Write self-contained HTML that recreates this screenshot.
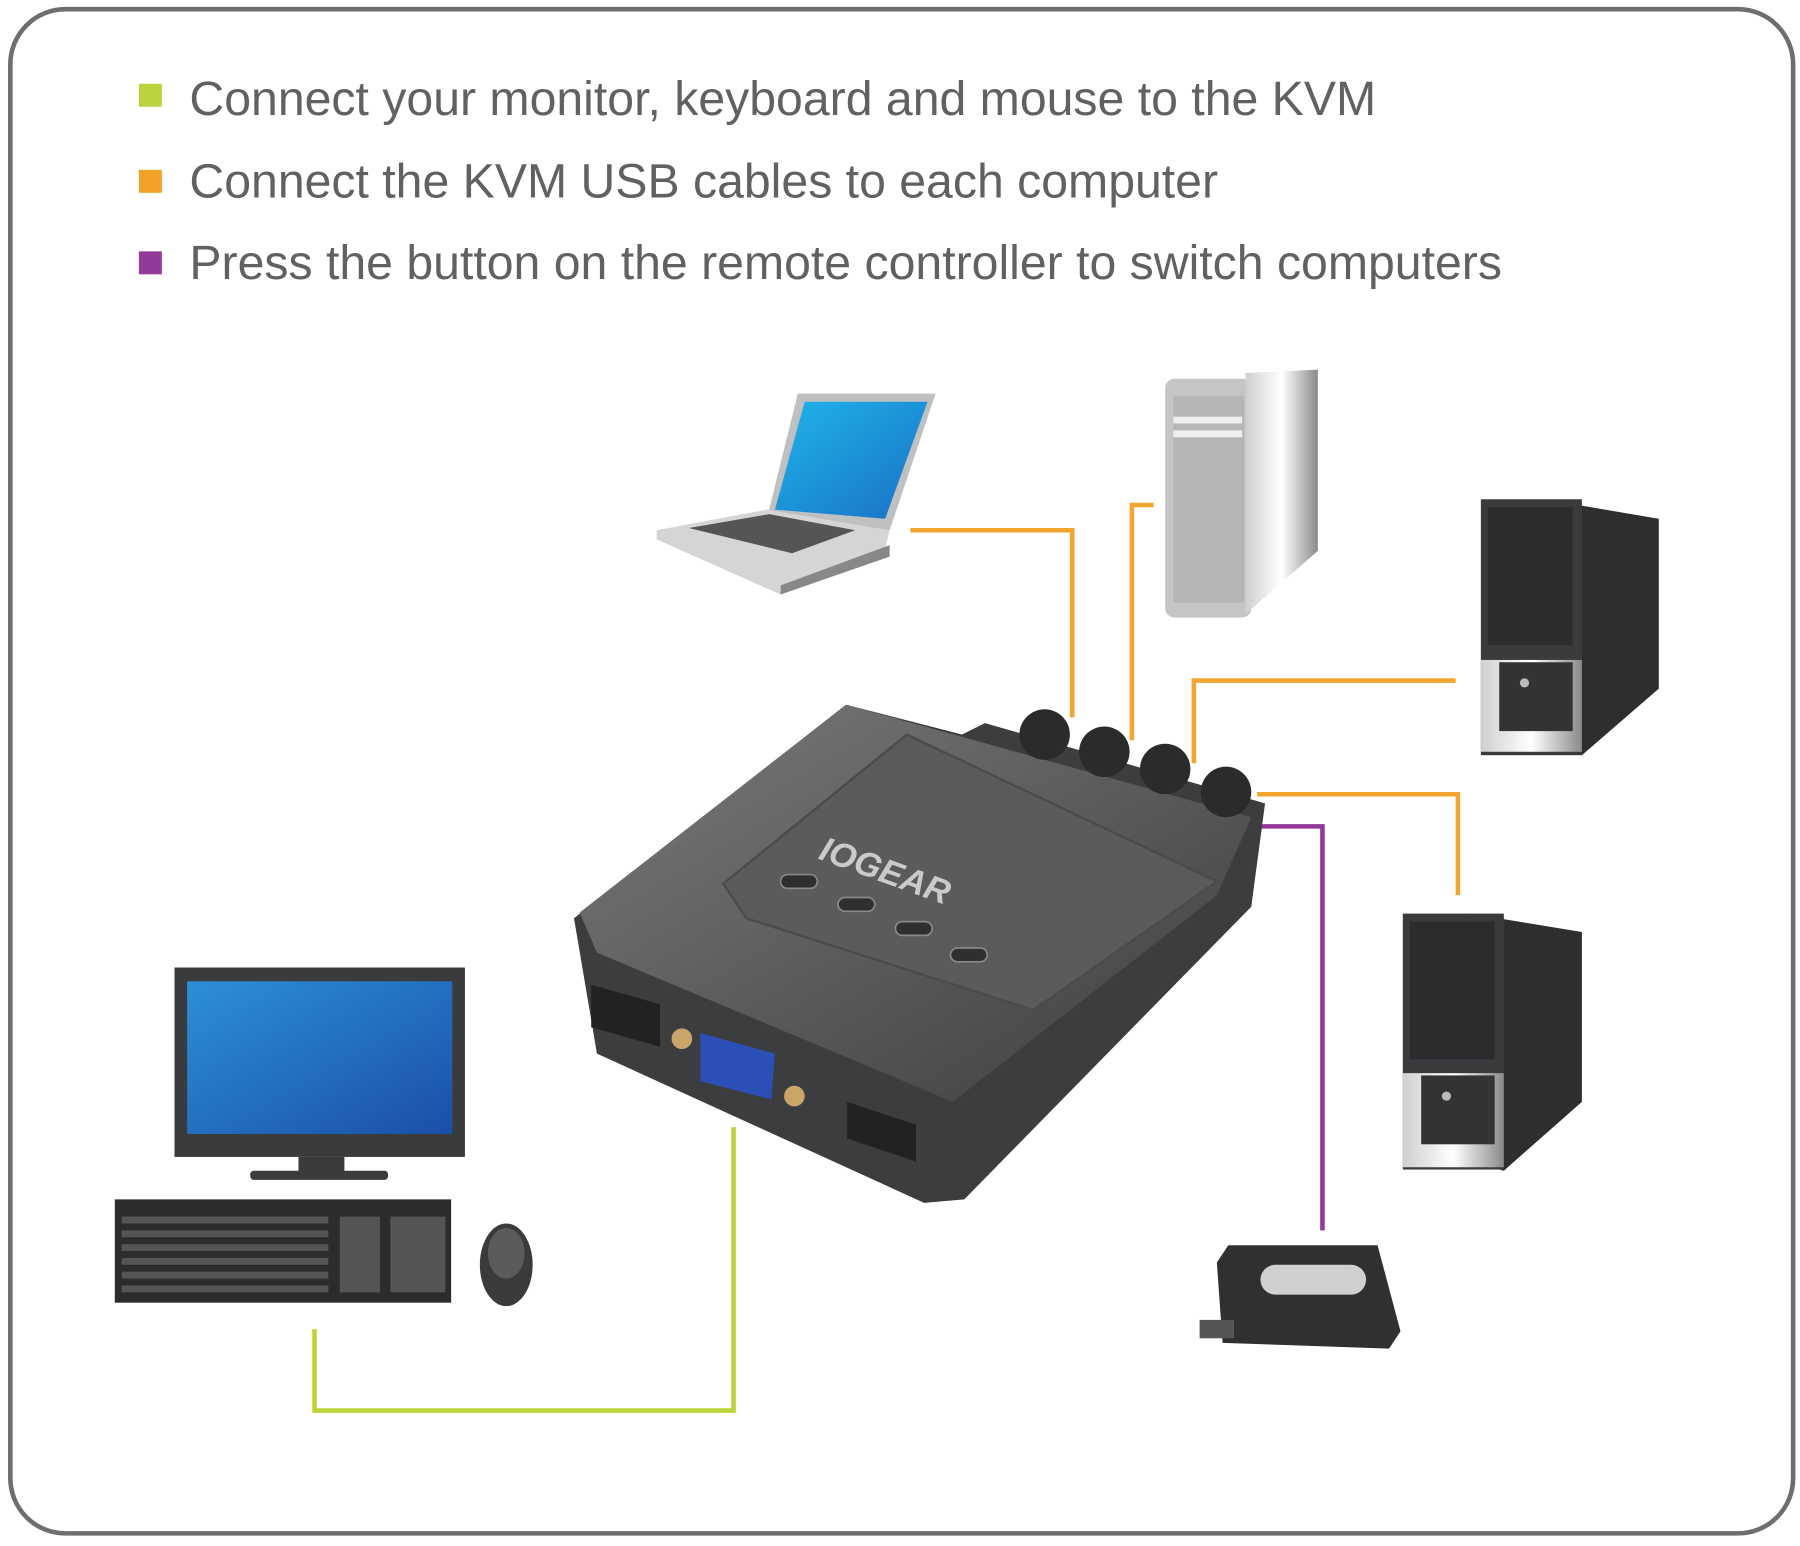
<!DOCTYPE html>
<html><head><meta charset="utf-8"><style>
html,body{margin:0;padding:0;background:#fff;}
svg{display:block;}
text{font-family:"Liberation Sans",sans-serif;}
</style></head><body>
<svg width="1800" height="1546" viewBox="0 0 1568 1347" preserveAspectRatio="none" xmlns="http://www.w3.org/2000/svg">
<defs>
<linearGradient id="scr" x1="0" y1="0" x2="1" y2="1"><stop offset="0" stop-color="#2d8fd8"/><stop offset="1" stop-color="#1a4fa8"/></linearGradient>
<linearGradient id="lap" x1="0" y1="0" x2="1" y2="1"><stop offset="0" stop-color="#1fb5ea"/><stop offset="1" stop-color="#1a6fc4"/></linearGradient>
<linearGradient id="twr" x1="0" y1="0" x2="1" y2="0"><stop offset="0" stop-color="#cfcfcf"/><stop offset="0.5" stop-color="#ffffff"/><stop offset="1" stop-color="#8a8a8a"/></linearGradient>
<linearGradient id="kvm" x1="0" y1="0" x2="1" y2="1"><stop offset="0" stop-color="#7a7b7d"/><stop offset="1" stop-color="#3b3c3e"/></linearGradient>
</defs>
<rect x="9" y="8" width="1553" height="1328" rx="48" fill="#fff" stroke="#6d6e70" stroke-width="4"/>
<rect x="121" y="73" width="20" height="20" fill="#b9d33c"/>
<rect x="121" y="148" width="20" height="20" fill="#f3a228"/>
<rect x="121" y="219" width="20" height="20" fill="#93399a"/>
<text x="165" y="100" font-size="42" fill="#606163">Connect your monitor, keyboard and mouse to the KVM</text>
<text x="165" y="172" font-size="42" fill="#606163">Connect the KVM USB cables to each computer</text>
<text x="165" y="243" font-size="42" fill="#606163">Press the button on the remote controller to switch computers</text>

<!-- connectors -->
<g fill="none" stroke-width="4">
<polyline points="793,462 934,462 934,625" stroke="#f2a531"/>
<polyline points="1005,440 986,440 986,645" stroke="#f2a531"/>
<polyline points="1268,593 1040,593 1040,665" stroke="#f2a531"/>
<polyline points="1095,692 1270,692 1270,780" stroke="#f2a531"/>
<polyline points="1098,720 1152,720 1152,1072" stroke="#93399a"/>
<polyline points="274,1158 274,1229 639,1229 639,982" stroke="#bcd63a"/>
</g>

<!-- laptop -->
<polygon points="695,343 815,343 775,462 668,452" fill="#bfc0c2"/>
<polygon points="701,350 808,350 771,452 675,444" fill="url(#lap)"/>
<polygon points="572,462 668,444 775,462 770,482 680,518 572,470" fill="#d4d5d7"/>
<polygon points="600,460 670,448 745,462 690,482" fill="#555"/>
<polygon points="680,510 775,475 775,485 680,518" fill="#888"/>

<!-- mac pro -->
<rect x="1015" y="330" width="75" height="208" rx="8" fill="#c4c5c7"/>
<polygon points="1085,325 1148,322 1148,480 1085,535" fill="url(#twr)"/>
<rect x="1022" y="345" width="62" height="180" fill="#b5b6b8"/>
<rect x="1022" y="363" width="60" height="6" fill="#eee"/>
<rect x="1022" y="375" width="60" height="6" fill="#eee"/>

<!-- tower 1 -->
<polygon points="1345,435 1445,452 1445,600 1378,658 1345,650" fill="#2d2e30"/>
<rect x="1290" y="435" width="88" height="223" fill="#3a3b3d"/>
<rect x="1290" y="575" width="88" height="80" fill="url(#twr)"/>
<rect x="1296" y="442" width="74" height="120" fill="#2b2c2e"/>
<rect x="1306" y="577" width="64" height="60" fill="#333"/>
<circle cx="1328" cy="595" r="4" fill="#bbb"/>

<!-- tower 2 -->
<polygon points="1280,796 1378,812 1378,960 1310,1020 1280,1012" fill="#2d2e30"/>
<rect x="1222" y="796" width="88" height="223" fill="#3a3b3d"/>
<rect x="1222" y="935" width="88" height="82" fill="url(#twr)"/>
<rect x="1228" y="803" width="74" height="120" fill="#2b2c2e"/>
<rect x="1238" y="937" width="64" height="60" fill="#333"/>
<circle cx="1260" cy="955" r="4" fill="#bbb"/>

<!-- KVM -->
<polygon points="500,800 737,614 838,640 858,630 1102,700 1090,790 840,1045 805,1048 520,918" fill="#3c3d3f"/>
<polygon points="505,795 737,614 1090,712 1060,780 830,960 520,830" fill="url(#kvm)"/>
<polygon points="630,770 790,640 1060,768 900,880 650,800" fill="#5a5b5d" stroke="#4a4b4d" stroke-width="2"/>
<g fill="#2a2b2d">
<circle cx="910" cy="640" r="22"/><circle cx="962" cy="655" r="22"/><circle cx="1015" cy="670" r="22"/><circle cx="1068" cy="690" r="22"/>
</g>
<text x="712" y="748" font-size="30" font-weight="bold" font-style="italic" fill="#c9cacc" transform="rotate(20 712 748)">IOGEAR</text>
<g fill="#2e2f31" stroke="#888" stroke-width="1.5">
<rect x="680" y="762" width="32" height="12" rx="6"/><rect x="730" y="782" width="32" height="12" rx="6"/>
<rect x="780" y="803" width="32" height="12" rx="6"/><rect x="828" y="826" width="32" height="12" rx="6"/>
</g>
<polygon points="515,858 575,875 575,912 515,895" fill="#222"/>
<polygon points="738,960 798,980 798,1012 738,992" fill="#222"/>
<polygon points="610,900 675,918 672,958 610,942" fill="#2c4fb5"/>
<circle cx="594" cy="905" r="9" fill="#c9a56a"/>
<circle cx="692" cy="955" r="9" fill="#c9a56a"/>

<!-- monitor -->
<rect x="152" y="843" width="253" height="165" fill="#3a3b3d"/>
<rect x="163" y="855" width="231" height="133" fill="url(#scr)"/>
<rect x="260" y="1008" width="40" height="14" fill="#3a3b3d"/>
<rect x="218" y="1020" width="120" height="8" rx="3" fill="#3a3b3d"/>

<!-- keyboard -->
<rect x="100" y="1045" width="293" height="90" fill="#2b2c2e"/>
<g fill="#555">
<rect x="106" y="1060" width="180" height="6"/><rect x="106" y="1072" width="180" height="6"/><rect x="106" y="1084" width="180" height="6"/><rect x="106" y="1096" width="180" height="6"/><rect x="106" y="1108" width="180" height="6"/><rect x="106" y="1120" width="180" height="6"/>
<rect x="296" y="1060" width="35" height="66"/><rect x="340" y="1060" width="48" height="66"/>
</g>
<!-- mouse -->
<ellipse cx="441" cy="1102" rx="23" ry="36" fill="#3a3b3d"/>
<ellipse cx="441" cy="1092" rx="16" ry="22" fill="#5a5b5d"/>

<!-- remote -->
<polygon points="1070,1085 1200,1085 1220,1160 1210,1175 1065,1170 1060,1100" fill="#2f3032"/>
<rect x="1098" y="1102" width="92" height="26" rx="13" fill="#cfd0d2"/>
<rect x="1045" y="1150" width="30" height="16" fill="#555"/>
</svg>
</body></html>
